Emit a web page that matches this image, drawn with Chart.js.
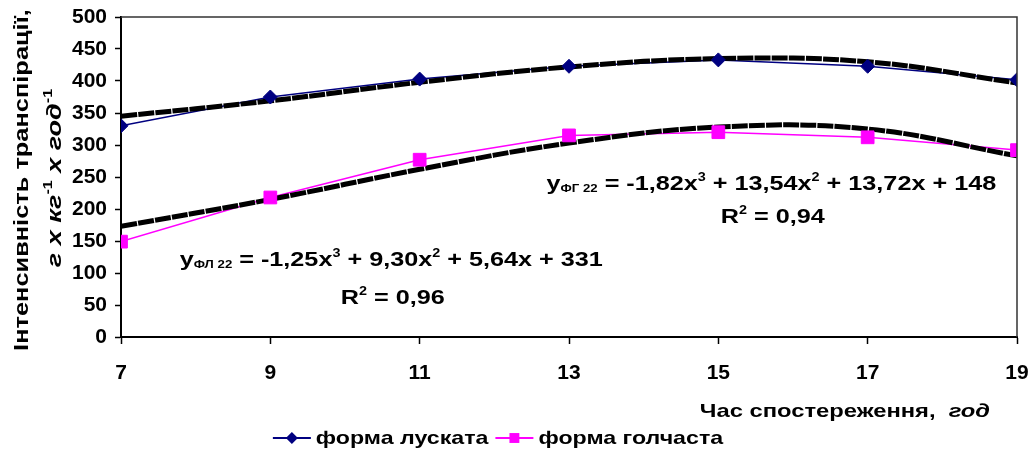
<!DOCTYPE html>
<html>
<head>
<meta charset="utf-8">
<script src="https://cdn.jsdelivr.net/npm/chart.js@4/dist/chart.umd.min.js"></script>
<style>
  html, body { margin: 0; padding: 0; background: #fff; }
  #chart { display: block; }
</style>
</head>
<body>
<canvas id="chart" width="1034" height="459"></canvas>
<script>
// Transpiration intensity over the day, two crown forms

const hours = [7, 9, 11, 13, 15, 17, 19];
const luskataValues = [330, 375, 403, 423, 433, 423, 402];
const golchastaValues = [149, 218, 277, 315, 320, 312, 292];

// polynomial trend values at each hour
const luskataTrend = [345, 369, 398, 422, 435, 430, 397];
const golchastaTrend = [173, 215, 262, 303, 328, 325, 283];

const seriesNames = ['форма лускатa', 'форма голчаста'];
const yTickValues = [0, 50, 100, 150, 200, 250, 300, 350, 400, 450, 500];

const FONT = '"Liberation Sans", Arial, sans-serif';
const BLUE = '#000080';
const PINK = '#ff00ff';

function points(values) {
  return hours.map((h, i) => ({ x: h, y: values[i] }));
}

// draws a row of text pieces (sub/superscripts via dy), sx stretches horizontally
function drawRuns(ctx, runs, x, y, align, sx) {
  sx = sx || 1;
  let total = 0;
  const widths = runs.map(r => {
    ctx.font = r.font;
    const w = ctx.measureText(r.t).width;
    total += w;
    return w;
  });
  const start = align === 'center' ? x - total * sx / 2 : align === 'right' ? x - total * sx : x;
  ctx.save();
  ctx.translate(start, y);
  ctx.scale(sx, 1);
  ctx.textBaseline = 'alphabetic';
  ctx.textAlign = 'left';
  let cx = 0;
  runs.forEach((r, i) => {
    ctx.font = r.font;
    ctx.fillText(r.t, cx, r.dy || 0);
    cx += widths[i];
  });
  ctx.restore();
  return total * sx;
}

const big = 'bold 21px ' + FONT;
const sub = 'bold 11px ' + FONT;
const sup = 'bold 12px ' + FONT;

const equations = [
  {
    x: 15.71, y: 230,
    runs: [
      { t: 'y', font: big }, { t: 'ФГ 22', font: sub, dy: 2 },
      { t: ' = -1,82x', font: big }, { t: '3', font: sup, dy: -9 },
      { t: ' + 13,54x', font: big }, { t: '2', font: sup, dy: -9 },
      { t: ' + 13,72x + 148', font: big }
    ]
  },
  {
    x: 15.73, y: 178,
    runs: [
      { t: 'R', font: big }, { t: '2', font: sup, dy: -9 }, { t: ' = 0,94', font: big }
    ]
  },
  {
    x: 10.62, y: 111,
    runs: [
      { t: 'y', font: big }, { t: 'ФЛ 22', font: sub, dy: 2 },
      { t: ' = -1,25x', font: big }, { t: '3', font: sup, dy: -9 },
      { t: ' + 9,30x', font: big }, { t: '2', font: sup, dy: -9 },
      { t: ' + 5,64x + 331', font: big }
    ]
  },
  {
    x: 10.64, y: 52,
    runs: [
      { t: 'R', font: big }, { t: '2', font: sup, dy: -9 }, { t: ' = 0,96', font: big }
    ]
  }
];

const textPlugin = {
  id: 'chartText',
  afterDraw(chart) {
    const ctx = chart.ctx;
    const area = chart.chartArea;
    const xs = chart.scales.x;
    const ys = chart.scales.y;
    ctx.save();
    ctx.fillStyle = '#000';

    // frame on top and right
    ctx.strokeStyle = '#333';
    ctx.lineWidth = 1.5;
    ctx.beginPath();
    ctx.moveTo(area.left, area.top);
    ctx.lineTo(area.right, area.top);
    ctx.lineTo(area.right, area.bottom);
    ctx.stroke();

    // trend equations
    equations.forEach(eq => {
      drawRuns(ctx, eq.runs, xs.getPixelForValue(eq.x), ys.getPixelForValue(eq.y), 'center', 1.2);
    });

    // y axis title, two lines
    ctx.save();
    ctx.translate(28, 180);
    ctx.rotate(-Math.PI / 2);
    drawRuns(ctx, [{ t: 'Інтенсивність транспірації,', font: 'bold 20px ' + FONT }], 0, 0, 'center', 1.27);
    ctx.restore();
    ctx.save();
    ctx.translate(61, 178);
    ctx.rotate(-Math.PI / 2);
    const it = 'italic bold 20px ' + FONT;
    const sup2 = 'bold 12px ' + FONT;
    drawRuns(ctx, [
      { t: 'г х кг', font: it }, { t: '-1', font: sup2, dy: -9 },
      { t: ' х год', font: it }, { t: '-1', font: sup2, dy: -9 }
    ], 0, 0, 'center', 1.35);
    ctx.restore();

    // x axis title
    drawRuns(ctx, [
      { t: 'Час спостереження,  ', font: 'bold 19px ' + FONT },
      { t: 'год', font: 'italic bold 19px ' + FONT }
    ], 990, 417, 'right', 1.25);

    // legend
    const legendY = 438;
    const lf = 'bold 19px ' + FONT;
    const lsx = 1.22;
    ctx.font = lf;
    const items = [
      { name: seriesNames[0], color: BLUE, style: 'rectRot', r: 6 },
      { name: seriesNames[1], color: PINK, style: 'rect', r: 7 }
    ];
    const lineLen = 38, gap = 5, itemGap = 7;
    let total = 0;
    items.forEach(item => { item.w = ctx.measureText(item.name).width * lsx; total += lineLen + gap + item.w; });
    total += itemGap;
    let lx = 498 - total / 2;
    items.forEach(item => {
      ctx.strokeStyle = item.color;
      ctx.lineWidth = 2;
      ctx.beginPath();
      ctx.moveTo(lx, legendY);
      ctx.lineTo(lx + lineLen, legendY);
      ctx.stroke();
      ctx.fillStyle = item.color;
      Chart.helpers.drawPoint(ctx, { pointStyle: item.style, radius: item.r, borderWidth: 0 }, lx + lineLen / 2, legendY);
      ctx.fillStyle = '#000';
      drawRuns(ctx, [{ t: item.name, font: lf }], lx + lineLen + gap, legendY + 6, 'left', lsx);
      lx += lineLen + gap + item.w + itemGap;
    });
    ctx.restore();
  }
};

new Chart(document.getElementById('chart'), {
  type: 'line',
  data: {
    datasets: [
      // markers on top
      {
        label: seriesNames[0], data: points(luskataValues), showLine: false,
        pointStyle: 'rectRot', pointRadius: 7, pointBackgroundColor: BLUE, pointBorderColor: BLUE, order: 0
      },
      {
        label: seriesNames[1], data: points(golchastaValues), showLine: false,
        pointStyle: 'rect', pointRadius: 9, pointBackgroundColor: PINK, pointBorderColor: PINK, order: 0
      },
      // polynomial trend lines
      {
        label: 'trend ФЛ', data: points(luskataTrend), borderColor: '#000', borderWidth: 5,
        borderDash: [16, 1.2], tension: 0.4, pointRadius: 0, order: 1
      },
      {
        label: 'trend ФГ', data: points(golchastaTrend), borderColor: '#000', borderWidth: 5,
        borderDash: [16, 1.2], tension: 0.4, pointRadius: 0, order: 1
      },
      // connecting lines of measured values
      {
        label: seriesNames[0] + ' line', data: points(luskataValues), borderColor: BLUE, borderWidth: 1.5,
        pointRadius: 0, tension: 0, order: 2
      },
      {
        label: seriesNames[1] + ' line', data: points(golchastaValues), borderColor: PINK, borderWidth: 1.5,
        pointRadius: 0, tension: 0, order: 2
      }
    ]
  },
  options: {
    responsive: false,
    animation: false,
    layout: { padding: { top: 17, right: 17, left: 0, bottom: 0 } },
    plugins: {
      legend: { display: false },
      tooltip: { enabled: false }
    },
    scales: {
      x: {
        type: 'linear',
        min: 7, max: 19,
        afterFit(scale) {
          scale.height = 122;
          scale.paddingLeft = 0;
          scale.paddingRight = 0;
        },
        afterBuildTicks(scale) { scale.ticks = hours.map(v => ({ value: v })); },
        ticks: {
          color: '#000', padding: 17, maxRotation: 0,
          font: { family: FONT, size: 21, weight: 'bold' }
        },
        grid: { drawOnChartArea: false, drawTicks: true, tickLength: 7, tickColor: '#000', tickWidth: 1.5 },
        border: { color: '#000', width: 2 }
      },
      y: {
        min: 0, max: 500,
        afterFit(scale) {
          scale.width = 121;
          scale.paddingTop = 0;
          scale.paddingBottom = 0;
        },
        afterBuildTicks(scale) { scale.ticks = yTickValues.map(v => ({ value: v })); },
        ticks: {
          color: '#000', padding: 8,
          font: { family: FONT, size: 21, weight: 'bold' }
        },
        grid: { drawOnChartArea: false, drawTicks: true, tickLength: 6, tickColor: '#000', tickWidth: 1.5 },
        border: { color: '#000', width: 2 }
      }
    }
  },
  plugins: [textPlugin]
});
</script>
</body>
</html>
